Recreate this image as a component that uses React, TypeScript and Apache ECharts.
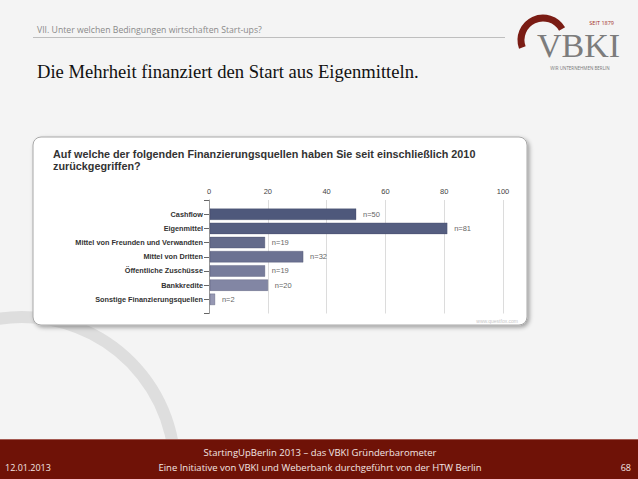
import React, { useEffect, useRef } from "react";
import * as echarts from "echarts";

const categories = [
  "Cashflow",
  "Eigenmittel",
  "Mittel von Freunden und Verwandten",
  "Mittel von Dritten",
  "Öffentliche Zuschüsse",
  "Bankkredite",
  "Sonstige Finanzierungsquellen",
];
const counts = [50, 81, 19, 32, 19, 20, 2];
const barColors = ["#4e587b", "#555e80", "#646b8b", "#6c7292", "#777c9b", "#8286a4", "#9698b3"];
const xTicks = [0, 20, 40, 60, 80, 100];

const headerText = "VII. Unter welchen Bedingungen wirtschaften Start-ups?";
const titleText = "Die Mehrheit finanziert den Start aus Eigenmitteln.";
const questionLines = [
  "Auf welche der folgenden Finanzierungsquellen haben Sie seit einschließlich 2010",
  "zurückgegriffen?",
];
const footerLines = [
  "StartingUpBerlin 2013 – das VBKI Gründerbarometer",
  "Eine Initiative von VBKI und Weberbank durchgeführt von der HTW Berlin",
];
const footerDate = "12.01.2013";
const pageNo = "68";

export default function App() {
  const ref = useRef<HTMLDivElement>(null);
  useEffect(() => {
    if (!ref.current) return;
    const chart = echarts.init(ref.current, undefined, { renderer: "svg" });
    const data = counts.map((v, i) => [v, i + 1]);
    const sans = "Liberation Sans";
    const light = "Open Sans";
    chart.setOption({
      animation: false,
      backgroundColor: "#f4f4f4",
      grid: { left: 209, right: 135, top: 200, bottom: 165.5, outerBoundsMode: "none" },
      xAxis: {
        type: "value",
        position: "top",
        min: xTicks[0],
        max: xTicks[xTicks.length - 1],
        interval: 20,
        axisLine: { show: false },
        axisTick: { show: false },
        axisLabel: { fontFamily: sans, fontSize: 7.5, color: "#444", margin: 5 },
        splitLine: { show: true, lineStyle: { color: "#dcdcdc", width: 1 } },
      },
      yAxis: {
        type: "value",
        inverse: true,
        min: 0,
        max: categories.length + 1,
        interval: 1,
        axisLine: { show: true, lineStyle: { color: "#999", width: 1 } },
        axisTick: { show: true, length: 5, lineStyle: { color: "#666" } },
        splitLine: { show: false },
        axisLabel: {
          fontFamily: sans,
          fontSize: 7.3,
          fontWeight: "bold",
          color: "#333",
          margin: 6,
          formatter: (v: number) => categories[v - 1] ?? "",
        },
      },
      series: [
        {
          type: "custom",
          data,
          z: 5,
          renderItem: (params: any, api: any) => {
            const val = api.value(0);
            const idx = api.value(1);
            const s = api.coord([0, idx]);
            const e = api.coord([val, idx]);
            const h = 11;
            return {
              type: "group",
              children: [
                {
                  type: "rect",
                  shape: { x: s[0] + 1, y: s[1] - h / 2, width: e[0] - s[0] - 1, height: h },
                  style: { fill: barColors[idx - 1], stroke: "rgba(60,65,95,0.5)", lineWidth: 0.6 },
                },
                {
                  type: "text",
                  style: {
                    text: "n=" + val,
                    x: e[0] + 7,
                    y: e[1],
                    verticalAlign: "middle",
                    fontFamily: sans,
                    fontSize: 7.5,
                    fill: "#666",
                  },
                },
              ],
            };
          },
        },
      ],
      graphic: [
        // background swoosh
        {
          type: "arc",
          z: -1,
          shape: { cx: 22, cy: 470, r: 153, startAngle: Math.PI, endAngle: Math.PI * 2.05, clockwise: true },
          style: { stroke: "#dedede", lineWidth: 12, fill: "none" },
        },
        // chart box
        {
          type: "rect",
          z: -1,
          shape: { x: 33, y: 137, width: 494, height: 188, r: 8 },
          style: {
            fill: "#ffffff",
            stroke: "#a8a8a8",
            lineWidth: 1,
            shadowBlur: 4,
            shadowColor: "rgba(0,0,0,0.35)",
            shadowOffsetX: 2,
            shadowOffsetY: 2,
          },
        },
        {
          type: "text",
          z: 10,
          style: {
            text: questionLines.join("\n"),
            x: 53,
            y: 148,
            fontFamily: sans,
            fontSize: 10.8,
            fontWeight: "bold",
            lineHeight: 12,
            fill: "#333",
          },
        },
        {
          type: "text",
          z: 10,
          style: { text: "www.questfox.com", x: 518, y: 321, align: "right", verticalAlign: "middle", fontFamily: sans, fontSize: 5, fill: "#c8c8c8" },
        },
        // header
        {
          type: "text",
          style: { text: headerText, x: 37, y: 30, verticalAlign: "middle", fontFamily: light, fontSize: 8.7, fill: "#8a8a8a" },
        },
        {
          type: "line",
          shape: { x1: 33, y1: 37.5, x2: 505, y2: 37.5 },
          style: { stroke: "#b0b0b0", lineWidth: 0.8 },
        },
        {
          type: "text",
          style: { text: titleText, x: 37, y: 71, verticalAlign: "middle", fontFamily: "Liberation Serif", fontSize: 18.6, fill: "#111" },
        },
        // logo
        {
          type: "arc",
          shape: { cx: 543, cy: 40, r: 22, startAngle: (160 * Math.PI) / 180, endAngle: (330 * Math.PI) / 180, clockwise: true },
          style: { stroke: "#7a1c14", lineWidth: 7, fill: "none" },
        },
        {
          type: "text",
          style: { text: "VBKI", x: 537, y: 45.5, verticalAlign: "middle", fontFamily: "Liberation Serif", fontSize: 34, fill: "#7c7c7c" },
        },
        {
          type: "text",
          style: { text: "SEIT 1879", x: 614, y: 22.5, align: "right", verticalAlign: "middle", fontFamily: light, fontSize: 5.5, fill: "#a3302a" },
        },
        {
          type: "text",
          style: { text: "WIR UNTERNEHMEN BERLIN", x: 580, y: 67.5, align: "center", verticalAlign: "middle", fontFamily: light, fontSize: 4.5, fill: "#777" },
        },
        // footer
        {
          type: "rect",
          shape: { x: 0, y: 439, width: 638, height: 40 },
          style: { fill: "#6f1207" },
        },
        {
          type: "line",
          shape: { x1: 0, y1: 439.5, x2: 638, y2: 439.5 },
          style: { stroke: "#a45a52", lineWidth: 1 },
        },
        {
          type: "text",
          style: {
            text: footerLines.join("\n"),
            x: 320,
            y: 459.5,
            align: "center",
            verticalAlign: "middle",
            lineHeight: 15,
            fontFamily: light,
            fontSize: 9.5,
            fill: "#f3e6e4",
          },
        },
        {
          type: "text",
          style: { text: footerDate, x: 5, y: 467, verticalAlign: "middle", fontFamily: light, fontSize: 9, fill: "#f3e6e4" },
        },
        {
          type: "text",
          style: { text: pageNo, x: 631, y: 467, align: "right", verticalAlign: "middle", fontFamily: light, fontSize: 9, fill: "#f3e6e4" },
        },
      ],
    });
    return () => chart.dispose();
  }, []);
  return (
    <div
      ref={ref}
      style={{ position: "absolute", left: 0, top: 0, width: 638, height: 479 }}
    />
  );
}
